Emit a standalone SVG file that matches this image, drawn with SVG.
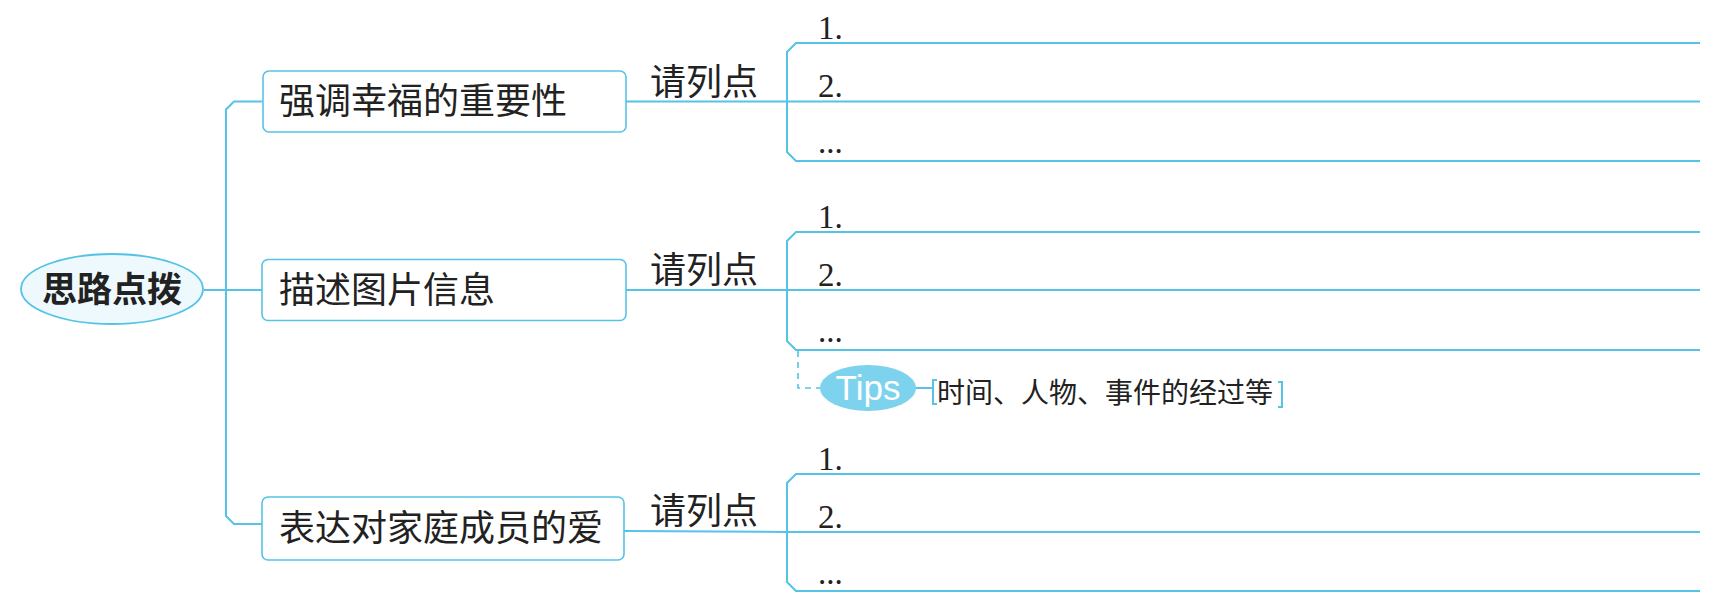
<svg xmlns="http://www.w3.org/2000/svg" width="1725" height="608" viewBox="0 0 1725 608">
<style>
.ln{fill:none;stroke:#55c3e6;stroke-width:2}
.box{fill:#ffffff;stroke:#55c3e6;stroke-width:1.6}
.cn{font-family:"Noto Sans CJK SC","Noto Sans",sans-serif;fill:#222}
.t36{font-size:36px}
.num{font-family:"Liberation Serif",serif;font-size:33px;fill:#222}
.dash{fill:none;stroke:#55c3e6;stroke-width:1.6;stroke-dasharray:6 5}
</style>
<rect width="1725" height="608" fill="#ffffff"/>
<g id="connectors">
  <path class="ln" d="M262 101.5 H234 L226 109.5 V516 L234 524 H262"/>
  <path class="ln" d="M204 290 H262"/>
  <path class="ln" d="M626 101.5 H1700"/>
  <path class="ln" d="M626 290 H1700"/>
  <path class="ln" d="M624 531 L787 532 H1700"/>
  <path class="ln" d="M1700 43 H796 L787 52 V152 L796 161 H1700"/>
  <path class="ln" d="M1700 232 H796 L787 241 V341 L796 350 H1700"/>
  <path class="ln" d="M1700 474 H796 L787 483 V582 L796 591 H1700"/>
  <path class="dash" d="M798 351 V388 H820"/>
  <path class="ln" d="M916 388 H933" stroke-width="1.6"/>
  <path class="ln" d="M937 380 H933 V404 H937" stroke-width="1.4"/>
  <path class="ln" d="M1278 382 H1282 V407 H1278" stroke-width="1.4"/>
</g>
<g id="root">
  <ellipse cx="112" cy="289" rx="91" ry="35" fill="#eef9fd" stroke="#55c3e6" stroke-width="1.8"/>
  <text x="112" y="302" text-anchor="middle" class="cn" font-size="35" font-weight="bold">思路点拨</text>
</g>
<g id="node1">
  <rect class="box" x="263" y="71" width="363" height="61" rx="6"/>
  <text x="279" y="114" class="cn t36">强调幸福的重要性</text>
</g>
<g id="node2">
  <rect class="box" x="262" y="259.5" width="364" height="61" rx="6"/>
  <text x="279" y="303" class="cn t36">描述图片信息</text>
</g>
<g id="node3">
  <rect class="box" x="262" y="497" width="362" height="63" rx="6"/>
  <text x="279" y="541" class="cn t36">表达对家庭成员的爱</text>
</g>
<g id="label1"><text x="650" y="95" class="cn t36">请列点</text></g>
<g id="label2"><text x="650" y="283" class="cn t36">请列点</text></g>
<g id="label3"><text x="650" y="524" class="cn t36">请列点</text></g>
<g id="list1">
  <text x="818" y="39" class="num">1.</text>
  <text x="818" y="97" class="num">2.</text>
  <text x="818" y="153" class="num">...</text>
</g>
<g id="list2">
  <text x="818" y="227.5" class="num">1.</text>
  <text x="818" y="285.5" class="num">2.</text>
  <text x="818" y="341.5" class="num">...</text>
</g>
<g id="list3">
  <text x="818" y="469.5" class="num">1.</text>
  <text x="818" y="527.5" class="num">2.</text>
  <text x="818" y="583.5" class="num">...</text>
</g>
<g id="tips">
  <ellipse cx="868" cy="388" rx="48" ry="23" fill="#7dd3ee"/>
  <text x="868" y="400" text-anchor="middle" font-family="Liberation Sans,Arial,sans-serif" font-size="35" fill="#ffffff">Tips</text>
  <text x="937" y="403" class="cn" font-size="28">时间、人物、事件的经过等</text>
</g>
</svg>
